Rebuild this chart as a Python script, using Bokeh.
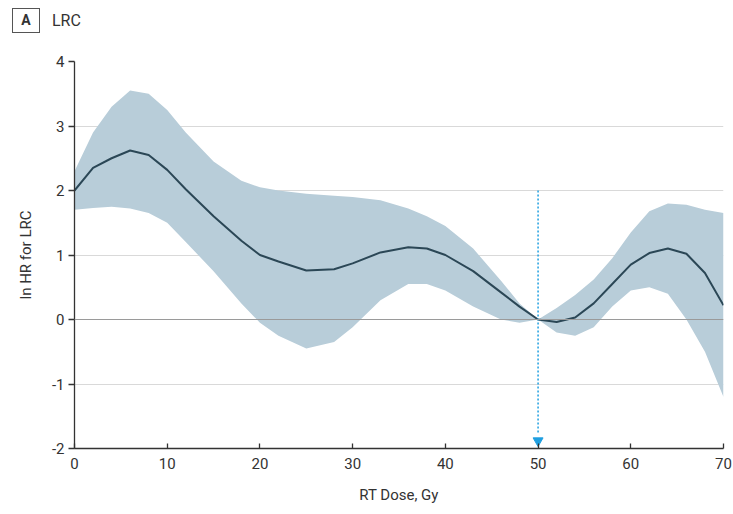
from bokeh.plotting import figure
from bokeh.models import Span, Range1d, FixedTicker, Div
from bokeh.layouts import column
from bokeh.embed import file_html
from bokeh.resources import INLINE

dose = [0, 2, 4, 6, 8, 10, 12, 15, 18, 20, 22, 25, 28, 30, 33, 36, 38, 40, 43, 46, 48, 50, 52, 54, 56, 58, 60, 62, 64, 66, 68, 70]
ln_hr = [2.0, 2.35, 2.5, 2.62, 2.55, 2.32, 2.02, 1.6, 1.22, 1.0, 0.9, 0.76, 0.78, 0.87, 1.04, 1.12, 1.1, 1.0, 0.75, 0.42, 0.2, 0.0, -0.04, 0.03, 0.25, 0.55, 0.85, 1.03, 1.1, 1.02, 0.72, 0.22]
upper = [2.3, 2.9, 3.3, 3.55, 3.5, 3.25, 2.9, 2.45, 2.15, 2.05, 2.0, 1.95, 1.92, 1.9, 1.85, 1.72, 1.6, 1.45, 1.1, 0.6, 0.25, 0.0, 0.18, 0.38, 0.62, 0.95, 1.35, 1.68, 1.8, 1.78, 1.7, 1.65]
lower = [1.7, 1.73, 1.75, 1.72, 1.65, 1.5, 1.2, 0.75, 0.25, -0.05, -0.25, -0.45, -0.35, -0.12, 0.3, 0.55, 0.55, 0.45, 0.2, 0.0, -0.05, 0.0, -0.2, -0.25, -0.12, 0.2, 0.45, 0.5, 0.4, 0.0, -0.5, -1.2]
x_ticks = [0, 10, 20, 30, 40, 50, 60, 70]
y_ticks = [-2, -1, 0, 1, 2, 3, 4]
y_tick_labels = {-2: "-2", -1: "-1", 0: "0", 1: "1", 2: "2", 3: "3", 4: "4"}
panel_letter = "A"
panel_title = "LRC"
ref_dose = 50
ref_top = 2.0
ref_bottom = -1.88

FONT = "Roboto"
HEADER_H = 46

header = Div(
    width=733, height=HEADER_H,
    text=(
        f'<div style="position:relative;width:733px;height:{HEADER_H}px;font-family:{FONT};color:#333333;">'
        f'<span style="position:absolute;left:12px;top:8px;width:28px;height:25px;box-sizing:border-box;'
        f'border:1.3px solid #555555;font-weight:bold;font-size:14px;line-height:23px;text-align:center;">{panel_letter}</span>'
        f'<span style="position:absolute;left:52px;top:9px;font-size:16px;line-height:23px;">{panel_title}</span>'
        '</div>'
    ),
    styles={"margin": "0", "padding": "0"},
)

p = figure(width=733, height=514 - HEADER_H, output_backend="svg", toolbar_location=None,
           x_range=Range1d(0, 70), y_range=Range1d(-2, 4),
           min_border_left=74, min_border_right=10, min_border_top=61 - HEADER_H, min_border_bottom=66)
p.outline_line_color = None
p.background_fill_color = "white"

p.varea(x=dose, y1=lower, y2=upper, fill_color="#b8cdd9", fill_alpha=1.0)
p.line(x=dose, y=ln_hr, line_color="#2b4756", line_width=2)

p.add_layout(Span(location=0, dimension="width", line_color="#9a9a9a", line_width=1.2))

p.segment(x0=[ref_dose], y0=[ref_top], x1=[ref_dose], y1=[ref_bottom + 0.1],
          line_color="#1f9fe0", line_width=1.5, line_dash="2 2")
p.scatter(x=[ref_dose], y=[ref_bottom], marker="inverted_triangle", size=10,
          fill_color="#1f9fe0", line_color="#1f9fe0")

p.xgrid.grid_line_color = None
p.ygrid.grid_line_color = "#d9d9d9"
p.ygrid.grid_line_width = 1.2

p.xaxis.ticker = FixedTicker(ticks=x_ticks)
p.yaxis.ticker = FixedTicker(ticks=y_ticks)
p.yaxis.major_label_overrides = y_tick_labels
p.xaxis.minor_tick_line_color = None
p.yaxis.minor_tick_line_color = None
p.xaxis.major_tick_in = 5
p.xaxis.major_tick_out = 0
p.yaxis.major_tick_in = 0
p.yaxis.major_tick_out = 6
for ax in (p.xaxis, p.yaxis):
    ax.axis_line_color = "#333333"
    ax.axis_line_width = 1.3
    ax.major_tick_line_color = "#333333"
    ax.major_tick_line_width = 1.3
    ax.major_label_text_font = FONT
    ax.major_label_text_font_size = "15px"
    ax.major_label_text_color = "#333333"
    ax.axis_label_text_font = FONT
    ax.axis_label_text_font_size = "15px"
    ax.axis_label_text_font_style = "normal"
    ax.axis_label_text_color = "#333333"

p.xaxis.axis_label = "RT Dose, Gy"
p.yaxis.axis_label = "ln HR for LRC"
p.xaxis.major_label_standoff = 9
p.xaxis.axis_label_standoff = 14
p.yaxis.major_label_standoff = 4
p.yaxis.axis_label_standoff = 14

layout = column(header, p, spacing=0)
open("out.html", "w").write(file_html(layout, INLINE))
